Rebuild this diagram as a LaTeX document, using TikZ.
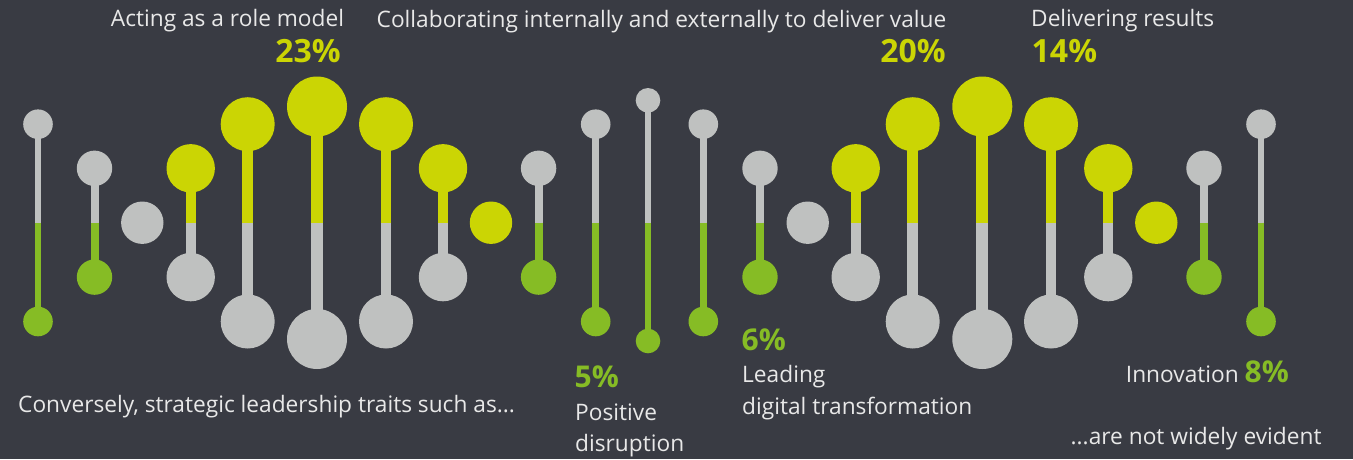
\documentclass[tikz,border=0pt]{standalone}
\usepackage{fontspec}
\setmainfont{Open Sans}
\definecolor{bg}{RGB}{57,59,67}
\definecolor{gry}{RGB}{191,193,192}
\definecolor{ylw}{RGB}{203,213,4}
\definecolor{grn}{RGB}{134,188,37}
\definecolor{txt}{RGB}{232,232,232}
\tikzset{
  bead/.style={circle, inner sep=0pt, draw=none, minimum size=#1},
  lbl/.style={text=txt, inner sep=0pt, font=\fontsize{22.7}{27}\selectfont},
  pcty/.style={text=ylw, inner sep=0pt, font=\fontsize{32}{36}\selectfont\bfseries},
  pctg/.style={text=grn, inner sep=0pt, font=\fontsize{30}{34}\selectfont\bfseries},
}
% name, x, ytop, ybot, r, stem width, top colour, bottom colour
\newcommand\lolli[8]{%
  \coordinate (#1-t) at (#2,#3);
  \coordinate (#1-m) at (#2,222.7);
  \coordinate (#1-b) at (#2,#4);
  \draw[line width=#6, draw=#7] (#1-t) -- (#1-m);
  \draw[line width=#6, draw=#8] (#1-m) -- (#1-b);
  \node[bead=2*#5, fill=#7] (#1-top) at (#1-t) {};
  \node[bead=2*#5, fill=#8] (#1-bot) at (#1-b) {};
}
\newcommand\lvA[4]{\lolli{#1}{#2}{124.2}{321.5}{14.8}{6.5}{#3}{#4}}
\newcommand\lvB[4]{\lolli{#1}{#2}{168.3}{277.1}{17.7}{8}{#3}{#4}}
\newcommand\lvC[4]{\lolli{#1}{#2}{168.3}{277.1}{24.2}{10}{#3}{#4}}
\newcommand\lvD[4]{\lolli{#1}{#2}{124.2}{321.5}{27}{10.7}{#3}{#4}}
\newcommand\lvE[4]{\lolli{#1}{#2}{106.5}{339}{30}{12}{#3}{#4}}
\newcommand\lvM[4]{\lolli{#1}{#2}{100.3}{341}{12.3}{6}{#3}{#4}}
\newcommand\single[3]{\node[bead=42.4, fill=#3] (#1) at (#2,222.7) {};}
\begin{document}
\begin{tikzpicture}[x=1pt,y=-1pt]
\useasboundingbox (0,0) rectangle (1353,459);
\fill[bg] (0,0) rectangle (1353,459);

% left group
\lvA{p1}{38}{gry}{grn}
\lvB{p2}{94.5}{gry}{grn}
\single{p3}{142.3}{gry}
\lvC{p4}{190.7}{ylw}{gry}
\lvD{p5}{247.7}{ylw}{gry}
\lvE{p6}{317}{ylw}{gry}
\lvD{p7}{386}{ylw}{gry}
\lvC{p8}{443}{ylw}{gry}
\single{p9}{491}{ylw}
\lvB{p10}{538.6}{gry}{grn}
% middle group
\lvA{p11}{595.7}{gry}{grn}
\lvM{p12}{648}{gry}{grn}
\lvA{p13}{703.3}{gry}{grn}
% right group
\lvB{p14}{760}{gry}{grn}
\single{p15}{807.7}{gry}
\lvC{p16}{855.7}{ylw}{gry}
\lvD{p17}{912.7}{ylw}{gry}
\lvE{p18}{982.3}{ylw}{gry}
\lvD{p19}{1051}{ylw}{gry}
\lvC{p20}{1108.3}{ylw}{gry}
\single{p21}{1156.3}{ylw}
\lvB{p22}{1204}{gry}{grn}
\lvA{p23}{1261}{gry}{grn}

% labels
\node[lbl, anchor=base east] (t1) at (344.3,26.7) {Acting as a role model};
\node[pcty, anchor=base east] (v1) at (341,62.3) {23\%};
\node[lbl, anchor=base west] (t2) at (376.5,27) {Collaborating internally and externally to deliver value};
\node[pcty, anchor=base east] (v2) at (946,62.3) {20\%};
\node[lbl, anchor=base west] (t3) at (1031,26.5) {Delivering results};
\node[pcty, anchor=base west] (v3) at (1031.5,62) {14\%};

\node[lbl, anchor=base west] (t4) at (18,412.3) {Conversely, strategic leadership traits such as...};
\node[pctg, anchor=base west] (v5) at (574.5,387.7) {5\%};
\node[lbl, anchor=base west] (t5a) at (575,420) {Positive};
\node[lbl, anchor=base west] (t5b) at (575,451.7) {disruption};
\node[pctg, anchor=base west] (v6) at (741.5,350) {6\%};
\node[lbl, anchor=base west] (t6a) at (742,382.3) {Leading};
\node[lbl, anchor=base west] (t6b) at (742,414) {digital transformation};
\node[lbl, anchor=base east] (t7) at (1289,382.7) {Innovation {\color{grn}\fontsize{30}{34}\selectfont\bfseries 8\%}};
\node[lbl, anchor=base east] (t8) at (1321.7,444.3) {...are not widely evident};
\end{tikzpicture}
\end{document}
